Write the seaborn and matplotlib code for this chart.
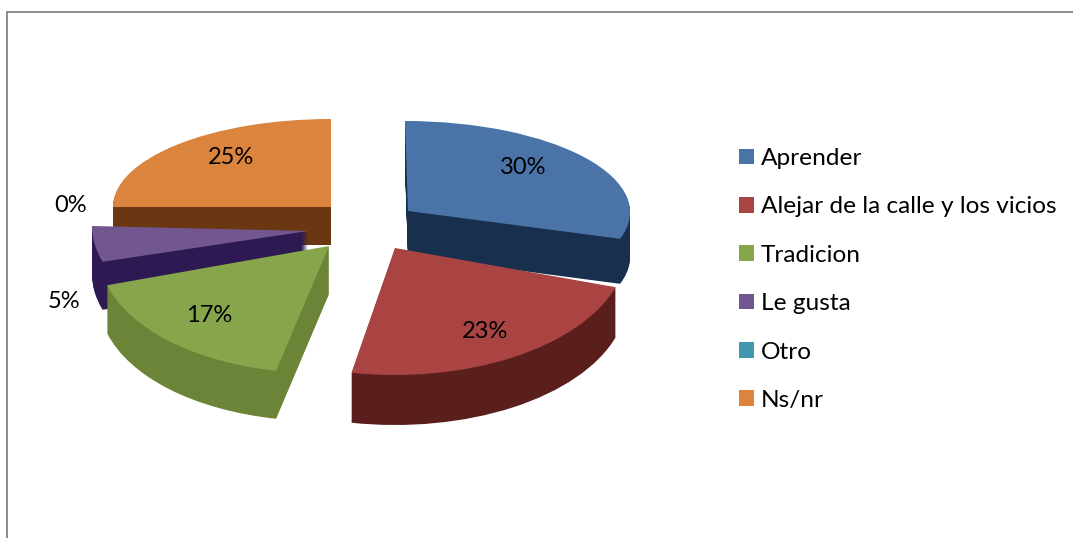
import seaborn as sns
import matplotlib.pyplot as plt
from matplotlib.patches import Patch, Wedge
from matplotlib.transforms import Affine2D

categories = ["Aprender", "Alejar de la calle y los vicios", "Tradicion", "Le gusta", "Otro", "Ns/nr"]
shares = [30, 23, 17, 5, 0, 25]

top_colors = ["#4a74a8", "#a94442", "#87a64c", "#71568f", "#4298ae", "#da843e"]
wall_colors = ["#182f4e", "#5a1f1c", "#6c8438", "#2e1a52", "#2a6475", "#6b3712"]

# fake 3d: apex x, apex y, rx, ry, depth, x shear, y shear for every slice (pixels, y from top)
geom = [
    (408, 211, 222, 90, 45, -3, 0),
    (395, 248, 232, 127, 50, 0, 0),
    (329, 246, 230, 127, 48, 10, 0),
    (308, 231, 216, 115, 48, 0, -5),
    (308, 231, 216, 115, 48, 0, -5),
    (331, 207, 218, 88, 38, 0, 0),
]
draw_order = [5, 0, 3, 1, 2]
label_pos = [(523, 167), (485, 331), (209, 316), (64, 302), (71, 206), (231, 158)]

sns.set_theme(style="white")
plt.rcParams["font.family"] = ["Lato", "DejaVu Sans"]

fig = plt.figure(figsize=(10.73, 5.38), dpi=100)
ax = fig.add_axes([7 / 1073, 0, 1 - 7 / 1073, 526 / 538])

palette = sns.color_palette(top_colors)
wedges, _ = ax.pie(shares, colors=palette, startangle=90, counterclock=False,
                   radius=1, wedgeprops={"linewidth": 0})
ax.set_aspect("auto")
ax.set_xlim(7, 1073)
ax.set_ylim(0, 526)


def place(g, shift=0):
    cx, cy, rx, ry, _, xs, ys = g
    return Affine2D.from_values(rx, ys, xs, ry, cx, 538 - cy - shift) + ax.transData


z = 2
for i in draw_order:
    g = geom[i]
    w = wedges[i]
    for d in range(g[4], 0, -1):
        wall = Wedge((0, 0), 1, w.theta1, w.theta2, facecolor=wall_colors[i], linewidth=0,
                     transform=place(g, d), zorder=z)
        ax.add_patch(wall)
    z += 1
    w.set_transform(place(g))
    w.set_zorder(z)
    z += 1

for name_share, pos in zip(shares, label_pos):
    ax.text(pos[0], 538 - pos[1], f"{name_share}%", fontsize=17, color="black",
            ha="center", va="center", zorder=50)

handles = [Patch(facecolor=c, edgecolor="none", label=n) for c, n in zip(palette, categories)]
ax.legend(handles=handles, loc="upper left", bbox_to_anchor=(739 / 1073, 1 - 148 / 538),
          bbox_transform=fig.transFigure, frameon=False, fontsize=17.6, labelcolor="black",
          handlelength=0.61, handleheight=0.61, handletextpad=0.29,
          labelspacing=1.12, borderpad=0, borderaxespad=0)

ax.set_frame_on(True)
sns.despine(ax=ax, top=False, right=True, bottom=True)
for s in ["left", "top"]:
    ax.spines[s].set_color("#8c8c8c")
    ax.spines[s].set_linewidth(1.4)
ax.set_xticks([])
ax.set_yticks([])

fig.savefig("out.png", dpi=100)
